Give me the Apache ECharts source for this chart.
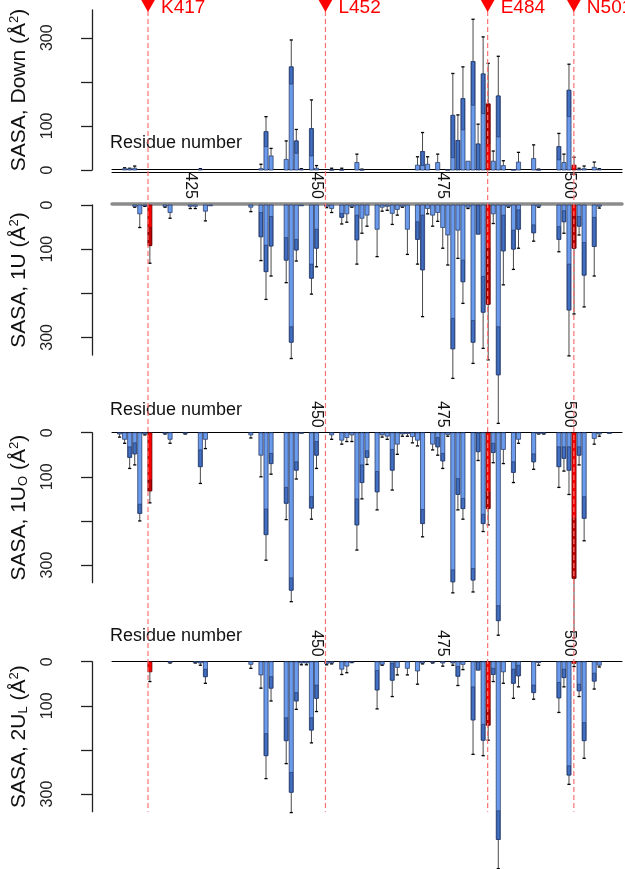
<!DOCTYPE html>
<html><head><meta charset="utf-8">
<script src="https://cdn.jsdelivr.net/npm/echarts@6/dist/echarts.min.js"></script>
<style>html,body{margin:0;padding:0;background:#fff}#c{width:625px;height:869px}</style>
</head><body><div id="c"></div>
<script>
// ---------- data ----------
const xTickLabels = [425, 450, 475, 500];
const yTickLabels = [0, 100, 300];
const yTicks = [0, 100, 200, 300];
const highlightRes = [417, 484, 501];
const markerRes = [417, 452, 484, 501];
const markerLabels = ['K417', 'L452', 'E484', 'N501'];

// Panel 1: Down
const downRes   = [412,413,414,427,439,440,441,444,445,446,447,449,450,453,455,458,459,470,471,472,474,476,477,478,479,480,481,482,483,484,485,486,487,489,490,493,494,498,499,500,501,502,503,505,506];
const downLight = [0,0,0,0,0,53,0,0,195,38,0,32,0,0,0,0,0,0,10,0,0,0,28,1,91,0,147,1,128,59,0,75,0,0,0,0,0,23,0,121,0,0,0,0,0];
const downTop   = [3,3,4,2,3,87,32,24,234,66,2,94,4,1,1,17,1,11,42,13,17,1,124,67,162,20,246,59,218,150,20,168,10,1,18,26,1,53,17,181,11,2,3,6,2];
const downErr   = [5,4,9,3,13,121,49,66,295,92,3,159,10,4,4,36,2,30,85,30,36,1,219,125,234,20,342,104,302,242,43,258,21,1,40,57,2,83,36,240,29,4,9,18,3];

// Panel 2: 1U
const u1Res   = [414,415,416,417,420,421,425,426,428,429,437,439,440,441,444,445,446,447,449,450,452,453,455,456,457,458,459,460,462,463,464,465,466,467,468,470,471,472,473,474,475,476,477,478,479,480,481,482,483,484,485,486,487,488,489,490,493,494,498,499,500,501,502,503,505,506];
const u1Light = [0,0,0,51,0,0,0,0,0,0,0,17,91,26,74,276,78,0,134,55,0,0,19,0,0,23,0,0,0,0,0,0,0,0,0,38,23,0,0,0,0,0,257,0,125,0,262,1,162,98,0,276,23,0,57,11,45,0,49,13,134,25,26,85,28,0];
const u1Top   = [3,20,2,92,3,17,3,3,14,1,5,72,151,93,125,311,102,1,166,98,3,8,28,20,3,79,30,23,55,5,3,19,10,3,55,78,147,8,23,17,51,68,326,57,174,5,311,66,243,225,20,385,104,3,100,55,63,3,78,38,238,98,48,159,94,3];
const u1Err   = [5,51,3,132,5,30,8,8,36,1,15,126,214,161,176,348,127,1,202,140,6,17,43,39,5,134,64,48,117,14,12,44,23,5,112,134,253,20,48,37,98,136,393,121,223,8,359,66,325,351,42,495,181,5,146,98,82,5,106,64,342,247,68,231,161,7];

// Panel 3: 1U_O
const u1oRes   = [411,412,413,414,415,416,417,420,421,424,427,428,437,439,440,441,444,445,446,447,449,450,453,455,456,457,458,459,460,462,463,464,465,466,467,468,469,470,471,473,474,475,476,477,478,479,481,482,483,484,485,486,487,489,490,493,494,495,498,499,500,501,502,503,505,506,508];
const u1oLight = [0,0,32,23,162,0,107,0,0,0,39,0,0,0,173,47,124,329,66,0,145,20,0,0,0,0,150,73,41,88,0,0,38,0,0,0,0,0,174,0,11,47,0,311,104,149,308,1,185,135,24,392,0,66,0,48,0,0,32,32,32,194,32,145,0,0,0];
const u1oTop   = [3,15,56,48,183,3,132,2,15,2,77,15,5,51,231,70,160,357,85,1,171,51,5,17,11,5,209,113,56,134,5,8,85,26,3,2,9,17,206,26,32,64,4,338,140,172,334,43,206,172,45,426,38,90,15,66,2,2,77,58,85,330,51,194,13,3,1];
const u1oErr   = [10,24,81,73,200,5,159,3,24,3,115,36,12,100,289,94,197,383,105,1,196,81,15,26,20,20,266,150,72,175,10,15,130,49,8,8,23,30,236,39,51,81,8,363,175,196,361,63,224,209,68,459,70,113,24,83,3,3,124,87,140,465,73,245,26,8,1];

// Panel 4: 2U_L
const u2lRes   = [417,421,426,427,428,437,439,440,441,444,445,446,447,448,449,450,452,453,455,456,457,462,463,465,466,468,470,471,473,475,477,478,479,481,482,483,484,485,486,487,489,490,493,494,498,499,500,501,502,503,505,506];
const u2lLight = [0,0,0,0,17,0,0,163,34,127,251,70,0,0,127,53,0,0,0,0,0,20,0,4,0,0,0,0,0,0,0,11,0,57,1,142,110,15,338,0,17,8,53,0,47,17,236,0,51,138,26,0];
const u2lTop   = [23,2,2,3,34,6,30,213,60,179,296,89,3,3,155,83,4,3,17,10,1,64,6,42,13,15,21,3,2,3,3,33,6,132,19,178,144,29,403,23,49,32,70,2,82,36,257,4,66,179,44,8];
const u2lErr   = [45,3,3,8,49,15,60,265,89,231,342,108,7,7,184,113,7,5,29,25,2,107,8,79,30,30,51,5,3,10,8,54,18,210,19,213,178,45,469,49,83,57,85,8,115,57,278,11,79,219,62,12];

// ---------- layout ----------
const FONT = "'Liberation Sans', Arial, sans-serif";
const X_MIN = 409.5, X_MAX = 510.5;
const GL = 110, GW = 512;
const panels = [
  {name: 'SASA, Down (Å{sup|2})', res: downRes, light: downLight, top: downTop, err: downErr, gTop: 10, gH: 160, max: 363, inverse: false, labels: null},
  {name: 'SASA, 1U (Å{sup|2})', res: u1Res, light: u1Light, top: u1Top, err: u1Err, gTop: 205, gH: 150, max: 340, inverse: true, labels: xTickLabels},
  {name: 'SASA, 1U{sub|O} (Å{sup|2})', res: u1oRes, light: u1oLight, top: u1oTop, err: u1oErr, gTop: 432.7, gH: 150, max: 340, inverse: true, labels: xTickLabels.slice(1)},
  {name: 'SASA, 2U{sub|L} (Å{sup|2})', res: u2lRes, light: u2lLight, top: u2lTop, err: u2lErr, gTop: 661.7, gH: 150, max: 340, inverse: true, labels: xTickLabels.slice(1)}
];

const grid = [], xAxis = [], yAxis = [], series = [];

function barItem(params, api) {
  const x = api.value(0), light = api.value(1), top = api.value(2), err = api.value(3);
  const red = highlightRes.indexOf(x) >= 0;
  const base = api.coord([x, 0]);
  const pTop = api.coord([x, top]);
  const pLight = api.coord([x, light]);
  const pErr = api.coord([x, err]);
  const w = api.size([1, 0])[0] * 0.82;
  const x0 = base[0] - w / 2;
  const fillL = red ? '#FF0000' : '#6A9BEC';
  const fillD = red ? '#C40000' : '#4170C4';
  const edge = red ? '#5a0000' : '#1E2F5A';
  const ch = [];
  if (err > top) {
    ch.push({type: 'line', shape: {x1: base[0], y1: pTop[1], x2: base[0], y2: pErr[1]}, style: {stroke: '#4a4a4a', lineWidth: 1}});
    ch.push({type: 'line', shape: {x1: base[0] - 1.6, y1: pErr[1], x2: base[0] + 1.6, y2: pErr[1]}, style: {stroke: '#000', lineWidth: 1.3}});
  }
  ch.push({type: 'rect', shape: {x: x0, y: Math.min(base[1], pTop[1]), width: w, height: Math.max(Math.abs(pTop[1] - base[1]), 0.8)},
           style: {fill: fillL, stroke: edge, lineWidth: 0.7}});
  if (top > light && light > 0) {
    ch.push({type: 'rect', shape: {x: x0 + 0.5, y: Math.min(pLight[1], pTop[1]), width: w - 1, height: Math.abs(pTop[1] - pLight[1])},
             style: {fill: fillD, stroke: edge, lineWidth: 0.6}});
  }
  return {type: 'group', children: ch};
}

const richName = {
  sup: {fontSize: 13, fontFamily: FONT, verticalAlign: 'top', lineHeight: 22},
  sub: {fontSize: 13, fontFamily: FONT, verticalAlign: 'bottom', lineHeight: 22}
};

panels.forEach((p, i) => {
  grid.push({left: GL, width: GW, top: p.gTop, height: p.gH});
  xAxis.push({
    type: 'value', gridIndex: i, min: X_MIN, max: X_MAX,
    position: i === 0 ? 'bottom' : 'top', offset: i === 0 ? -1 : (i === 1 ? 1 : 0),
    axisLine: {show: true, onZero: false, lineStyle: {color: i === 1 ? '#8c8c8c' : '#000', width: i === 1 ? 3.5 : 1}},
    axisTick: {show: false}, splitLine: {show: false},
    axisLabel: p.labels ? {show: true, customValues: p.labels, rotate: 90, margin: 5, fontSize: 16, color: '#111', fontFamily: FONT} : {show: false}
  });
  yAxis.push({
    type: 'value', gridIndex: i, min: 0, max: p.max, inverse: p.inverse, position: 'left', offset: 20,
    axisLine: {show: true, lineStyle: {color: '#222', width: 1.3}},
    axisTick: {show: true, customValues: yTicks, length: 11, lineStyle: {color: '#222', width: 1.3}},
    axisLabel: {show: true, customValues: yTickLabels, rotate: 90, margin: 36, fontSize: 16, color: '#222', fontFamily: FONT},
    splitLine: {show: false},
    name: p.name, nameLocation: 'middle', nameRotate: 90, nameGap: 62,
    nameTextStyle: {fontSize: 21, color: '#111', fontFamily: FONT, rich: richName}
  });
  series.push({
    type: 'custom', xAxisIndex: i, yAxisIndex: i, clip: false, renderItem: barItem,
    data: p.res.map((r, k) => [r, p.light[k], p.top[k], p.err[k]]), z: 2
  });
});

// second line under panel 1 axis
xAxis.push({type: 'value', gridIndex: 0, min: X_MIN, max: X_MAX, position: 'bottom', offset: 2,
  axisLine: {show: true, onZero: false, lineStyle: {color: '#000', width: 1}}, axisTick: {show: false}, axisLabel: {show: false}, splitLine: {show: false}});

// overlay grid for dashed marker lines
grid.push({left: GL, width: GW, top: 0, height: 811.7});
const ovX = xAxis.length;
xAxis.push({type: 'value', gridIndex: 4, min: X_MIN, max: X_MAX, show: false});
yAxis.push({type: 'value', gridIndex: 4, min: 0, max: 1, show: false});
series.push({
  type: 'custom', xAxisIndex: ovX, yAxisIndex: 4, clip: false, z: 10,
  data: markerRes.map((r, k) => [r, markerLabels[k]]),
  renderItem: function (params, api) {
    const x = api.value(0);
    const t = api.coord([x, 1]);
    const b = api.coord([x, 0]);
    return {type: 'group', children: [
      {type: 'line', shape: {x1: t[0], y1: t[1] + 11, x2: b[0], y2: b[1]}, style: {stroke: '#FF7070', lineWidth: 1.2, lineDash: [5, 3]}},
      {type: 'polygon', shape: {points: [[t[0] - 6.8, t[1]], [t[0] + 6.8, t[1]], [t[0], t[1] + 12]]}, style: {fill: '#FF0000'}},
      {type: 'text', style: {x: t[0] + 13, y: t[1] + 8, text: markerLabels[params.dataIndex], fill: '#FF0000', font: '19px ' + FONT, textAlign: 'left', textVerticalAlign: 'middle'}}
    ]};
  }
});

const graphic = [
  {type: 'text', left: 110, top: 134, style: {text: 'Residue number', font: '18px ' + FONT, fill: '#111'}},
  {type: 'text', left: 110, top: 401, style: {text: 'Residue number', font: '18px ' + FONT, fill: '#111'}},
  {type: 'text', left: 110, top: 627, style: {text: 'Residue number', font: '18px ' + FONT, fill: '#111'}}
];

const chart = echarts.init(document.getElementById('c'), null, {renderer: 'canvas'});
chart.setOption({animation: false, backgroundColor: '#fff', grid, xAxis, yAxis, series, graphic});
</script></body></html>
